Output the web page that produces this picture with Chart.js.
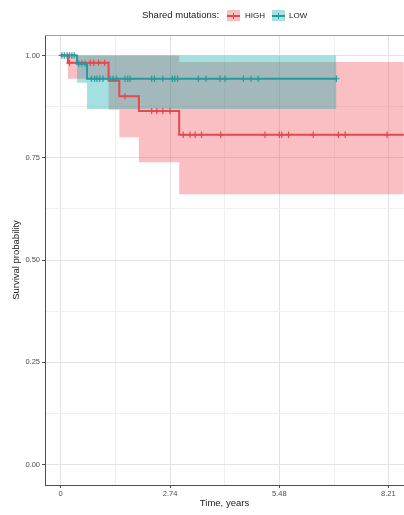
<!doctype html>
<html lang="en">
<head>
  <meta charset="utf-8">
  <title>Survival by shared mutations</title>
  <script src="https://cdn.jsdelivr.net/npm/chart.js@4.4.1/dist/chart.umd.min.js"></script>
  <style>
    body { margin: 0; background: #fff; font-family: "Liberation Sans", Arial, sans-serif; }
    #wrap { position: relative; width: 404px; height: 515px; }
    #wrap canvas { position: absolute; left: 0; top: 0; }
    .lg { position: absolute; top: 9px; line-height: 12px; color: #1a1a1a; white-space: nowrap; }
    .key { position: absolute; top: 10px; width: 13px; height: 11px; }
    .key i { position: absolute; left: 0; right: 0; top: 4.5px; height: 2px; }
    .key b { position: absolute; left: 6px; width: 1px; top: 2.5px; height: 6px; }
  </style>
</head>
<body>
  <div id="wrap">
    <canvas id="km" width="404" height="515"></canvas>
    <!-- legend -->
    <span class="lg" style="left:142px; font-size:9.5px;">Shared mutations:</span>
    <span class="key" style="left:227px; background:#f9bfc2;"><i style="background:#e5484d"></i><b style="background:#e5484d"></b></span>
    <span class="lg" style="left:245px; font-size:8px; top:9.5px;">HIGH</span>
    <span class="key" style="left:272px; background:#a6e0df;"><i style="background:#26999e"></i><b style="background:#26999e"></b></span>
    <span class="lg" style="left:289px; font-size:8px; top:9.5px;">LOW</span>
  </div>

  <script>
    // axis ticks
    const xTicks = [0, 2.74, 5.48, 8.21];
    const xLabels = ['0', '2.74', '5.48', '8.21'];
    const xMinor = [1.37, 4.11, 6.85];
    const yTicks = [0, 0.25, 0.5, 0.75, 1];
    const yLabels = ['0.00', '0.25', '0.50', '0.75', '1.00'];
    const yMinor = [0.125, 0.375, 0.625, 0.875];

    // HIGH group (step curve + 95% CI)
    const highTime  = [0, 0.18, 1.2, 1.47, 1.96, 2.97, 8.6];
    const highSurv  = [1, 0.982, 0.938, 0.900, 0.864, 0.806, 0.806];
    const highUpper = [1, 1, 1, 1, 1, 0.984, 0.984];
    const highLower = [1, 0.943, 0.867, 0.800, 0.739, 0.661, 0.661];
    const highCensor = [0.22, 0.74, 0.83, 0.95, 1.10, 1.61, 2.28, 2.41, 2.56, 2.74,
      3.07, 3.24, 3.37, 3.53, 4.01, 5.12, 5.48, 5.54, 5.71, 6.33, 6.96, 7.13, 8.18];

    // LOW group
    const lowTime  = [0, 0.41, 0.66, 6.91];
    const lowSurv  = [1, 0.980, 0.943, 0.943];
    const lowUpper = [1, 1, 1, 1];
    const lowLower = [1, 0.933, 0.869, 0.869];
    const lowCensor = [0.03, 0.09, 0.16, 0.22, 0.28, 0.34, 0.45, 0.53, 0.61,
      0.77, 0.85, 0.91, 0.98, 1.06, 1.24, 1.31, 1.40, 1.61, 1.68, 1.74, 2.28, 2.35,
      2.56, 2.80, 2.86, 2.93, 3.45, 3.64, 3.99, 4.12, 4.58, 4.77, 4.95, 6.91];

    const redLine = '#e5484d';
    const tealLine = '#26999e';

    function pts(t, s) {
      return t.map((v, i) => ({x: v, y: s[i]}));
    }
    // survival value at time t (step function)
    function stepAt(t, s, v) {
      let out = s[0];
      for (let i = 0; i < t.length; i++) { if (t[i] <= v) out = s[i]; }
      return out;
    }
    function censorPts(c, t, s) {
      return c.map(v => ({x: v, y: stepAt(t, s, v)}));
    }

    const band = {borderWidth: 0, pointRadius: 0, stepped: true};
    const line = {borderWidth: 2, pointRadius: 0, stepped: true, fill: false};
    const cens = {showLine: false, pointStyle: 'cross', pointRadius: 3.2, pointBorderWidth: 1.2};

    const datasets = [
      Object.assign({data: pts(highTime, highUpper), fill: false, order: 8}, band),
      Object.assign({data: pts(highTime, highLower), fill: '-1', backgroundColor: 'rgba(240,60,70,0.33)', order: 7}, band),
      Object.assign({data: pts(lowTime, lowUpper), fill: false, order: 6}, band),
      Object.assign({data: pts(lowTime, lowLower), fill: '-1', backgroundColor: 'rgba(0,170,170,0.35)', order: 5}, band),
      Object.assign({label: 'HIGH', data: pts(highTime, highSurv), borderColor: redLine, order: 4}, line),
      Object.assign({label: 'LOW', data: pts(lowTime, lowSurv), borderColor: tealLine, order: 3}, line),
      Object.assign({data: censorPts(highCensor, highTime, highSurv), borderColor: redLine, pointBorderColor: redLine, order: 2}, cens),
      Object.assign({data: censorPts(lowCensor, lowTime, lowSurv), borderColor: tealLine, pointBorderColor: tealLine, order: 1}, cens)
    ];

    function isMajor(list, v) {
      return list.some(m => Math.abs(m - v) < 1e-6);
    }

    const topBorder = {
      id: 'topBorder',
      beforeDatasetsDraw(chart) {
        const a = chart.chartArea, ctx = chart.ctx;
        ctx.save();
        ctx.strokeStyle = '#a0a0a0';
        ctx.lineWidth = 1;
        ctx.beginPath();
        ctx.moveTo(a.left, a.top + 0.5);
        ctx.lineTo(a.right, a.top + 0.5);
        ctx.stroke();
        ctx.restore();
      }
    };

    const tickFont = {family: '"Liberation Sans", Arial, sans-serif', size: 7.5};
    const titleFont = {family: '"Liberation Sans", Arial, sans-serif', size: 9.5};

    new Chart(document.getElementById('km'), {
      type: 'line',
      data: {datasets: datasets},
      plugins: [topBorder],
      options: {
        responsive: false,
        animation: false,
        events: [],
        layout: {autoPadding: false, padding: {top: 35, right: 0, left: 0, bottom: 0}},
        plugins: {legend: {display: false}, tooltip: {enabled: false}},
        scales: {
          x: {
            type: 'linear',
            min: -0.393,
            max: 8.604,
            afterFit(scale) {
              scale.height = 30;
              scale.paddingLeft = 0;
              scale.paddingRight = 0;
            },
            afterBuildTicks(scale) {
              scale.ticks = xTicks.concat(xMinor).sort((a, b) => a - b).map(v => ({value: v}));
            },
            ticks: {
              autoSkip: false, maxRotation: 0, padding: 1.5, color: '#4d4d4d', font: tickFont,
              callback: v => { const i = xTicks.findIndex(m => Math.abs(m - v) < 1e-6); return i < 0 ? '' : xLabels[i]; }
            },
            grid: {
              tickLength: 3,
              color: ctx => isMajor(xTicks, ctx.tick.value) ? '#e3e3e3' : '#f0f0f0',
              tickColor: ctx => isMajor(xTicks, ctx.tick.value) ? '#4d4d4d' : 'rgba(0,0,0,0)'
            },
            border: {display: true, color: '#4d4d4d', width: 1},
            title: {display: true, text: 'Time, years', color: '#1a1a1a', font: titleFont, padding: {top: 0, bottom: 6}}
          },
          y: {
            type: 'linear',
            min: -0.05,
            max: 1.05,
            afterFit(scale) { scale.width = 45; },
            afterBuildTicks(scale) {
              scale.ticks = yTicks.concat(yMinor).sort((a, b) => a - b).map(v => ({value: v}));
            },
            ticks: {
              autoSkip: false, padding: 2, color: '#4d4d4d', font: tickFont,
              callback: v => { const i = yTicks.findIndex(m => Math.abs(m - v) < 1e-6); return i < 0 ? '' : yLabels[i]; }
            },
            grid: {
              tickLength: 3,
              color: ctx => isMajor(yTicks, ctx.tick.value) ? '#e3e3e3' : '#f0f0f0',
              tickColor: ctx => isMajor(yTicks, ctx.tick.value) ? '#4d4d4d' : 'rgba(0,0,0,0)'
            },
            border: {display: true, color: '#4d4d4d', width: 1},
            title: {display: true, text: 'Survival probability', color: '#1a1a1a', font: titleFont, padding: {top: 11, bottom: 0}}
          }
        }
      }
    });
  </script>
</body>
</html>
